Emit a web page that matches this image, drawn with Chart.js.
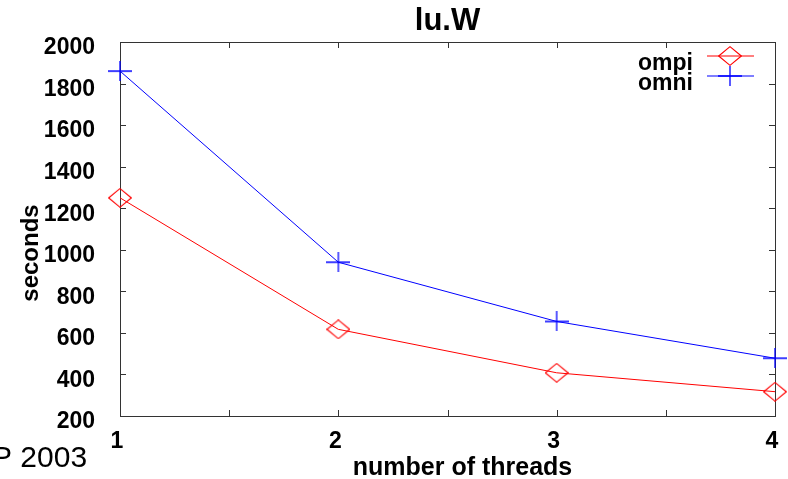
<!DOCTYPE html>
<html><head><meta charset="utf-8">
<script src="https://cdn.jsdelivr.net/npm/chart.js@4"></script>
<style>html,body{margin:0;padding:0;background:#fff;overflow:hidden}#wrap{width:788px;height:479px;position:relative}</style>
</head><body><div id="wrap"><canvas id="c" width="788" height="479"></canvas></div>
<script>
// ---- data ----
const threads = [1, 2, 3, 4];
const ompiSeconds = [1250, 617, 408, 317];
const omniSeconds = [1860, 940, 655, 478];
const seriesNames = ['ompi', 'omni'];
const chartTitle = 'lu.W';
const xAxisTitle = 'number of threads';
const yAxisTitle = 'seconds';
const footnote = 'P 2003';

const RED = '#ff0000', BLUE = '#0000ff', FRAME = '#333333';
const FONT = '"Liberation Sans", Arial, Helvetica, sans-serif';

function diamondImg(color) {
  const c = document.createElement('canvas'); c.width = 24; c.height = 20;
  const g = c.getContext('2d'); g.strokeStyle = color; g.lineWidth = 1.1;
  g.beginPath(); g.moveTo(0.7, 10); g.lineTo(12, 0.7); g.lineTo(23.3, 10); g.lineTo(12, 19.3); g.closePath(); g.stroke();
  return c;
}
function crossImg(color) {
  const c = document.createElement('canvas'); c.width = 24; c.height = 20;
  const g = c.getContext('2d'); g.strokeStyle = color; g.lineWidth = 1.3;
  g.beginPath(); g.moveTo(0, 10); g.lineTo(24, 10); g.moveTo(12, 0); g.lineTo(12, 20); g.stroke();
  return c;
}
const markers = [diamondImg(RED), crossImg(BLUE)];

const framePlugin = {
  id: 'frame',
  beforeDatasetsDraw(chart) {
    const {ctx, chartArea: a, scales} = chart;
    ctx.save();
    ctx.strokeStyle = FRAME; ctx.lineWidth = 1;
    ctx.strokeRect(Math.round(a.left) + 0.5, Math.round(a.top) + 0.5, Math.round(a.right - a.left), Math.round(a.bottom - a.top));
    ctx.beginPath();
    scales.y.ticks.forEach(t => {
      const p = Math.round(scales.y.getPixelForValue(t.value)) + 0.5;
      ctx.moveTo(a.left, p); ctx.lineTo(a.left + 6, p);
      ctx.moveTo(a.right - 6, p); ctx.lineTo(a.right, p);
    });
    scales.x.ticks.forEach(t => {
      const p = Math.round(scales.x.getPixelForValue(t.value)) + 0.5;
      ctx.moveTo(p, a.bottom); ctx.lineTo(p, a.bottom - 6);
      ctx.moveTo(p, a.top); ctx.lineTo(p, a.top + 6);
    });
    ctx.stroke();
    ctx.restore();
  },
  afterDraw(chart) {
    const {ctx, chartArea: a} = chart;
    ctx.save();
    // axis titles
    ctx.fillStyle = '#000';
    ctx.font = 'bold 25px ' + FONT;
    ctx.textAlign = 'center'; ctx.textBaseline = 'alphabetic';
    ctx.fillText(xAxisTitle, (a.left + a.right) / 2 + 15, a.bottom + 59);
    ctx.font = 'bold 24px ' + FONT;
    ctx.save();
    ctx.translate(38, (a.top + a.bottom) / 2 + 24);
    ctx.rotate(-Math.PI / 2);
    ctx.fillText(yAxisTitle, 0, 0);
    ctx.restore();
    // footnote
    ctx.font = '30px ' + FONT; ctx.textAlign = 'left';
    ctx.fillText(footnote, -8, 467);
    // legend
    ctx.font = 'bold 23px ' + FONT; ctx.textAlign = 'right';
    chart.data.datasets.forEach((ds, i) => {
      const ly = a.top + 14 + i * 20;
      ctx.fillText(ds.label, a.right - 82, a.top + 28 + i * 20);
      ctx.strokeStyle = ds.borderColor; ctx.lineWidth = 1.2;
      ctx.beginPath(); ctx.moveTo(a.right - 68, ly); ctx.lineTo(a.right - 21, ly); ctx.stroke();
      const img = ds.pointStyle;
      ctx.drawImage(img, a.right - 45 - img.width / 2, ly - img.height / 2);
    });
    ctx.restore();
  }
};

new Chart(document.getElementById('c'), {
  type: 'line',
  data: {
    datasets: [
      { label: seriesNames[0], data: threads.map((t, i) => ({x: t, y: ompiSeconds[i]})), clip: false,
        borderColor: RED, backgroundColor: RED, borderWidth: 1, pointStyle: markers[0], tension: 0 },
      { label: seriesNames[1], data: threads.map((t, i) => ({x: t, y: omniSeconds[i]})), clip: false,
        borderColor: BLUE, backgroundColor: BLUE, borderWidth: 1, pointStyle: markers[1], tension: 0 }
    ]
  },
  options: {
    responsive: false, animation: false,
    layout: { padding: { left: 0, right: 13, top: 0, bottom: 0 } },
    plugins: {
      legend: { display: false },
      tooltip: { enabled: false },
      title: { display: true, text: chartTitle, fullSize: false, color: '#000',
        font: { family: FONT, size: 31, weight: 'bold', lineHeight: 1 },
        padding: { top: 6, bottom: 5 } }
    },
    scales: {
      x: { type: 'linear', min: 1, max: 4,
        afterFit(s) { s.height = 63; },
        grid: { display: false }, border: { display: false },
        ticks: { stepSize: 0.5, color: '#000', padding: 4, labelOffset: -3, maxRotation: 0, autoSkip: false,
          font: { family: FONT, size: 23, weight: 'bold' },
          callback: v => Number.isInteger(v) ? String(v) : '' } },
      y: { min: 200, max: 2000,
        afterFit(s) { s.width = 120; },
        grid: { display: false }, border: { display: false },
        ticks: { stepSize: 200, color: '#000', padding: 17, labelOffset: 6,
          font: { family: FONT, size: 23, weight: 'bold' },
          callback: v => String(v) } }
    }
  },
  plugins: [framePlugin]
});
</script>
</body></html>
